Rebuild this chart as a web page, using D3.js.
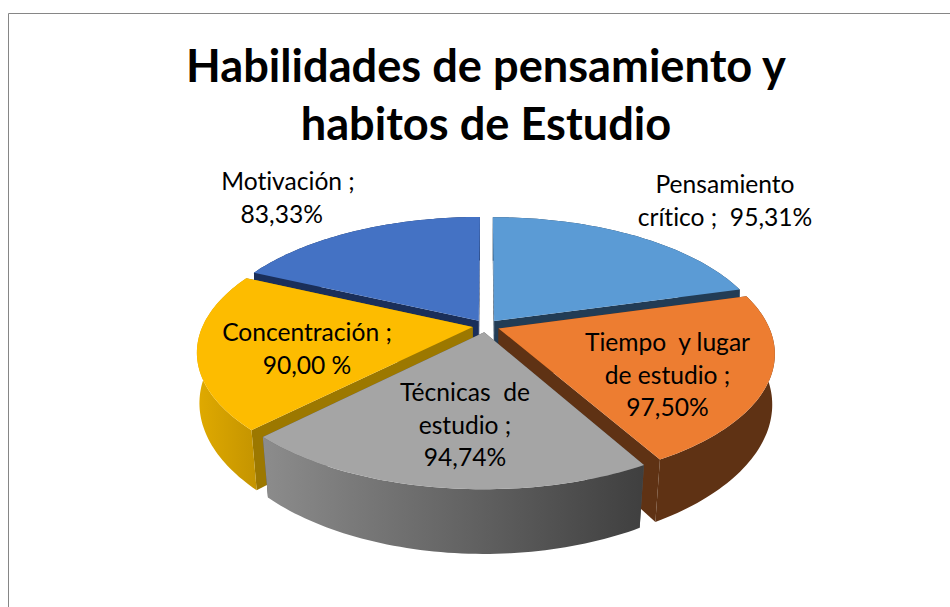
<!DOCTYPE html>
<html>
<head>
<meta charset="utf-8">
<script src="https://cdn.jsdelivr.net/npm/d3@7"></script>
<style>
  html, body { margin: 0; padding: 0; background: #fff; }
  svg { display: block; }
  text { font-family: Lato, sans-serif; fill: #000; white-space: pre; font-variant-ligatures: none; }
</style>
</head>
<body>
<div id="chart"></div>
<script>
/** Chart data */
const titleLines = ["Habilidades de pensamiento y", "habitos de Estudio"];
const categories = ["Pensamiento crítico", "Tiempo y lugar de estudio", "Técnicas de estudio", "Concentración", "Motivación"];
const values = [95.31, 97.5, 94.74, 90.0, 83.33];
const labelLines = [
  ["Pensamiento", "crítico ;  95,31%"],
  ["Tiempo  y lugar", "de estudio ;", "97,50%"],
  ["Técnicas  de", "estudio ;", "94,74%"],
  ["Concentración ;", "90,00 %"],
  ["Motivación ;", "83,33%  "],
];
const topColors = ["#5b9bd5", "#ed7d31", "#a5a5a5", "#fdbc00", "#4472c4"];
const wallColors = ["#223c55", "#5f3214", "#555555", "#9c7800", "#1a2f5a"];

/** Layout */
const width = 950;
const height = 607;
const centerX = 486;
const centerY = 326;
const radiusX = 270;
const radiusY = 125;
const depth = 52;
const perspective = 0.187;
const explode = 0.05;
const labelX = [725, 667.5, 465, 307, 288];
const labelY = [193, 351, 401, 341, 190];
const labelStep = 32.5;

/** Map a point on the unit disc (z 0 top, 1 bottom) to the screen */
const project = (u, v, z) => {
  const s = 1 / (1 - perspective * v);
  const taper = 0.004 + 0.025 * Math.max(v, 0);
  return [
    centerX + radiusX * u * s * (1 - taper * z),
    centerY + (radiusY * v + depth * z) * s,
  ];
};

const svg = d3.select("#chart").append("svg").attr("width", width).attr("height", height);
const defs = svg.append("defs");

const gradient = (id, stops) => {
  const g = defs.append("linearGradient").attr("id", id);
  stops.forEach(([o, c]) => g.append("stop").attr("offset", o).attr("stop-color", c));
};
gradient("wallGray", [[0, "#8c8c8c"], [1, "#3f3f3f"]]);
gradient("wallYellow", [[0, "#e0aa00"], [1, "#c49400"]]);

/** Chart frame */
svg.append("path")
  .attr("d", `M8.5,${height}V13.5H${width}`)
  .attr("fill", "none")
  .attr("stroke", "#868686");

const pie = d3.pie().sort(null).value((d) => d);
const arcs = pie(values);
const line = d3.line();

const slicePoints = (d, z) => {
  const mid = (d.startAngle + d.endAngle) / 2;
  const ox = explode * Math.sin(mid);
  const oy = -explode * Math.cos(mid);
  const steps = d3.range(0, 61).map((i) => d.startAngle + ((d.endAngle - d.startAngle) * i) / 60);
  return {
    apex: project(ox, oy, z),
    rim: steps.map((a) => project(ox + Math.sin(a), oy - Math.cos(a), z)),
  };
};

/** Back slices first, front slices cover them */
const drawOrder = [4, 0, 3, 1, 2];
const outerFill = (i) => (i === 2 ? "url(#wallGray)" : i === 3 ? "url(#wallYellow)" : wallColors[i]);

drawOrder.forEach((i) => {
  const d = arcs[i];
  const top = slicePoints(d, 0);
  const bottom = slicePoints(d, 1);
  const g = svg.append("g").attr("class", "slice");
  const n = top.rim.length - 1;

  g.append("path")
    .attr("d", line([top.apex, top.rim[0], bottom.rim[0], bottom.apex]) + "Z")
    .attr("fill", wallColors[i]);
  g.append("path")
    .attr("d", line([top.apex, top.rim[n], bottom.rim[n], bottom.apex]) + "Z")
    .attr("fill", wallColors[i]);
  g.append("path")
    .attr("d", line([...top.rim, ...bottom.rim.slice().reverse()]) + "Z")
    .attr("fill", outerFill(i));
  g.append("path")
    .attr("d", line([top.apex, ...top.rim]) + "Z")
    .attr("fill", topColors[i]);
});

/** Title */
svg.append("g")
  .selectAll("text")
  .data(titleLines)
  .enter()
  .append("text")
  .attr("x", 486)
  .attr("y", (_, i) => 82 + i * 58)
  .attr("text-anchor", "middle")
  .attr("font-size", 45.2)
  .attr("font-weight", 700)
  .text((d) => d);

/** Data labels */
labelLines.forEach((lines, i) => {
  svg.append("g")
    .selectAll("text")
    .data(lines)
    .enter()
    .append("text")
    .attr("x", labelX[i])
    .attr("y", (_, j) => labelY[i] + j * labelStep)
    .attr("text-anchor", "middle")
    .attr("font-size", 24.6)
    .text((d) => d);
});
</script>
</body>
</html>
